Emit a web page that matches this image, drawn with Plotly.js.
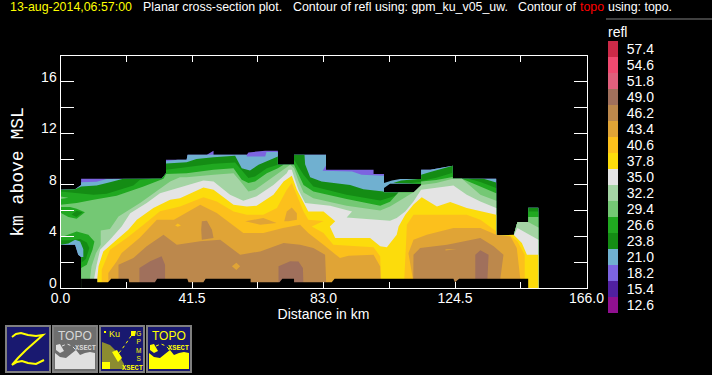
<!DOCTYPE html>
<html><head><meta charset="utf-8">
<script src="https://cdn.plot.ly/plotly-3.0.1.min.js"></script>
<style>html,body{margin:0;padding:0;background:#000}#c{width:712px;height:375px}</style></head>
<body><div id="c"></div>
<script>
// Legend
const legendLabels=["12.6","15.4","18.2","21.0","23.8","26.6","29.4","32.2","35.0","37.8","40.6","43.4","46.2","49.0","51.8","54.6","57.4"];
const legendColors=["#901090","#5020a0","#7c64e0","#70b0d0","#148c14","#20a820","#74c874","#a4d4a4","#e4e4e4","#fcdc0c","#fcc01c","#e0a436","#bc884c","#a0705c","#e0607c","#f04a70","#cc2a48"];
const legendWidth=legendLabels.map(()=>1);
// Regions where reflectivity reaches a level: [distance km, height km], null separates pieces
const ge182=[[0,7.62],[4.6,7.67],[6.5,8.0],[6.5,8.47],[31.9,8.47],[33.3,8.91],[33.3,9.95],[39.8,9.95],[40.1,10.34],[46.2,10.34],[48.3,10.65],[48.3,10.34],[58.8,10.34],[59.3,10.52],[64.6,10.65],[68.6,10.65],[68.6,9.56],[73.7,9.56],[73.7,10.34],[83.8,10.34],[83.8,9.17],[98.8,9.17],[98.8,8.84],[102.1,8.84],[102.1,7.42],[113.8,7.42],[113.8,9.17],[116.7,9.17],[123.8,9.48],[123.8,8.47],[137.5,8.47],[137.5,4.05],[143,4.05],[144.2,5.12],[147.6,5.12],[147.6,6.23],[150.8,6.23],[150.8,0],[6.5,0],[6.5,2.4],[5.6,2.58],[5.1,2.97],[4.6,3.36],[0,3.36]];
const ge21=[[0,7.62],[4.6,7.67],[6.5,8.0],[6.5,8.2],[11.4,8.25],[14.6,8.46],[31.9,8.47],[33.3,8.91],[33.3,9.85],[37,9.95],[39.8,9.95],[40.1,10.34],[58.8,10.34],[58.8,10.2],[64.6,10.2],[65,10.55],[68.6,10.55],[68.6,9.56],[73.7,9.56],[73.7,10.34],[83.8,10.34],[83.8,9.5],[82.7,9.1],[92,9.04],[95,8.78],[102.1,8.7],[102.1,7.42],[113.8,7.42],[113.8,9.17],[116.7,9.17],[123.8,9.48],[123.8,8.47],[137.5,8.47],[137.5,4.05],[143,4.05],[144.2,5.12],[147.6,5.12],[147.6,6.23],[150.8,6.23],[150.8,0],[6.5,0],[6.5,2.4],[5.6,2.58],[5.1,2.97],[4.6,3.36],[0,3.36],null,[102.1,8.14],[104.6,8.35],[107.2,8.45],[113.8,8.47],[113.8,8.09],[104,8.09],[102.1,7.75]];
const ge238=[[0,7.62],[4.6,7.67],[6.5,7.87],[11.4,7.95],[15.6,8.2],[19.8,8.47],[31.9,8.47],[33.3,8.91],[33.3,9.65],[39.8,9.75],[42.9,10],[48.3,10.15],[55.1,10.27],[57.2,9.3],[59.8,9.12],[62.5,9.56],[68.6,10.2],[68.6,9.56],[73.7,9.56],[73.7,10.34],[77,10.34],[77.2,9.6],[78.8,8.6],[82.4,8.27],[91.4,8.0],[95.6,7.67],[101.9,7.49],[102.1,7.42],[113.8,7.42],[113.8,8.79],[116.7,9.0],[123.8,9.48],[123.8,8.47],[133.5,8.47],[137.5,8.19],[137.5,4.05],[143,4.05],[144.2,5.12],[147.6,5.12],[147.6,6.23],[150.8,6.23],[150.8,0],[6.5,0],[6.5,2.4],[7.2,2.4],[7.2,3.0],[6.2,3.6],[4.6,3.75],[2.5,3.45],[0,3.36],null,[105,8.15],[107.5,8.35],[113.8,8.47],[113.8,8.09]];
const ge266=[[0,7.49],[4.6,7.36],[10.4,7.23],[14.6,7.31],[23,7.96],[25.1,8.4],[28.8,8.47],[31.9,8.47],[33.3,8.91],[33.3,9.17],[39.8,9.38],[48.3,9.64],[55.1,9.74],[57.2,9.12],[59.3,8.53],[61.4,8.66],[65.1,9.3],[68.6,9.56],[73.7,9.56],[73.7,9.95],[76.7,8.78],[79.8,7.88],[90.3,7.23],[100.9,6.79],[105,7.1],[108,7.42],[113.8,7.42],[113.8,8.3],[118.6,8.55],[123.8,8.95],[123.8,8.47],[128.8,8.47],[132.5,8.22],[137.5,7.76],[137.5,4.05],[143,4.05],[144.2,5.12],[147.6,5.12],[147.6,5.94],[150.8,5.94],[150.8,0],[6.5,0],[6.5,1.95],[8.0,2.25],[9.1,3.1],[8.3,3.53],[6.2,3.8],[3,3.7],[0,3.7],null,[110,8.12],[113.8,8.25],[113.8,8.09]];
const ge294=[[0,6.45],[5.1,6.6],[10.4,6.85],[17.7,7.15],[26.2,7.88],[30.4,8.3],[32.5,8.47],[33.3,8.84],[39.8,8.91],[48.3,9.17],[54.6,9.3],[57.2,8.4],[59.3,8.14],[61.4,8.27],[65.1,8.91],[68.6,9.3],[70.4,9.56],[73.7,9.56],[75.1,8.78],[76.7,8.0],[79.8,7.49],[90.3,6.9],[100.9,6.38],[104,6.7],[106.7,7.42],[113.8,7.42],[113.8,8.27],[118.6,8.37],[123.8,8.62],[123.8,8.47],[126.7,8.47],[132.5,7.9],[137.5,7.36],[137.5,4.05],[143,4.05],[144.2,5.12],[147.6,5.12],[147.6,5.5],[150.8,5.5],[150.8,0],[6.5,0],[6.5,1.55],[8.3,1.81],[10.1,2.97],[10.7,3.61],[8.8,4.13],[5.1,4.39],[0,3.92]];
const patch266=[[0,6.28],[3,6.28],[5.1,6.15],[7.7,5.87],[5.1,5.37],[2.5,5.5],[0,5.84]];
const patch238=[[5.1,6.0],[7,5.87],[5,5.5],[3.5,5.7]];
const patch294=[[0,7.1],[2.5,7.0],[0,6.9]];
const ge322=[[9.3,0],[9.3,0.72],[9.8,1.68],[11.2,2.71],[12.7,3.36],[12.7,4.47],[15.6,4.57],[18.3,5.55],[25.1,6.59],[31.4,7.67],[34.6,8.26],[37.7,8.6],[39.8,8.6],[48.3,8.79],[54.6,8.91],[57.2,8.14],[59.3,7.49],[61.4,7.62],[65.1,8.27],[68.6,8.91],[71.4,9.43],[72.5,9.56],[73.7,9.3],[75.1,8.3],[76.7,7.4],[79.8,6.97],[90.3,6.38],[100.9,6.02],[104,6.33],[106.7,6.71],[111.4,7.42],[113.8,8.0],[118.6,8.14],[123.8,8.47],[126.7,8.47],[132.5,7.24],[137.5,6.77],[137.5,4.05],[143,4.05],[144.2,5.12],[147.6,5.12],[150.8,4.7],[150.8,0]];
const ge35=[[10.6,0],[10.6,0.72],[11.4,1.8],[12.5,2.97],[15.6,3.74],[19.3,4.78],[22,5.8],[27.2,6.59],[31.4,7.36],[36.7,7.75],[45.1,8.35],[48.3,8.27],[53.5,7.24],[57.7,6.77],[61.9,7.11],[67.2,8],[71.4,8.91],[72,9.17],[73,9.17],[74,8.4],[75.1,7.62],[77.2,6.59],[85.1,6.38],[92,5.94],[90.3,5.47],[104,5.22],[106.1,5.43],[108.8,5.94],[111.4,6.72],[113.8,7.62],[124,7.96],[128.2,7.24],[132.5,6.72],[137.5,6.2],[137.5,4.05],[143,4.05],[144.2,4.65],[150.8,3.75],[150.8,0]];
const ge378=[[11.6,0],[11.6,0.72],[12,1.68],[13.5,2.84],[17.2,3.62],[21.4,4.52],[24.1,5.29],[29.3,6.2],[34.6,6.84],[37.7,6.97],[45.1,7.8],[48.3,7.62],[54.6,6.46],[58.8,6.33],[61.9,6.38],[67.2,7.24],[70.4,8.27],[73,8.7],[74.6,7.62],[76.7,6.59],[78.2,5.94],[83,5.94],[86.7,5.17],[85,4.78],[86.7,3.87],[97.7,3.87],[100.9,3.23],[103,3.17],[106.1,4.13],[106.7,4.78],[108.8,5.69],[111.4,6.47],[114,7.05],[118.8,6.33],[123,6.67],[128.2,6.2],[137.5,5.68],[137.5,4.05],[143,4.13],[145.6,3.49],[147.2,2.58],[150.8,2.58],[150.8,0]];
const ge406=[[13,0],[13,1.42],[15.6,2.97],[20.9,3.87],[26.2,4.9],[31.4,5.95],[37.7,6.33],[45.1,7.05],[49.3,6.72],[54.6,5.94],[58.8,5.68],[64,5.68],[68.3,6.2],[71.4,7.62],[73,8.14],[75.1,6.97],[76.7,5.94],[78.2,5.29],[83,5.2],[79.3,4.78],[83,4.26],[86.1,3.36],[98.8,3.17],[100.9,2.45],[101.2,0.72],[101.2,0],null,[108.5,0],[108.5,0.72],[109.1,3.75],[109.3,4.9],[111.4,5.68],[124,5.68],[128.2,5.68],[132.5,5.3],[137.5,4.4],[137.5,4.05],[142,4.05],[144.2,3.62],[146.5,2.58],[146.5,0]];
const ge434=[[15.1,0],[15.1,1.16],[17.7,2.06],[19.3,2.71],[25,3.9],[30.4,5.3],[35.8,5.3],[44.1,6.46],[49.3,5.81],[53.5,5.04],[57.7,4.26],[64,4.26],[70.2,4.65],[75.6,4.9],[78.2,4.26],[83,3.36],[88.2,2.32],[90.9,2.5],[98.8,2.58],[100.9,1.67],[101.1,0.72],[101.1,0],null,[111.2,0],[111.2,0.72],[109.8,2.7],[111.4,3.75],[115.6,4.13],[124,4.65],[132.5,4.65],[137.5,4.13],[142,4],[144,3.1],[145.1,0.72],[145.1,0],null,[58.3,5.17],[64,5.43],[68.2,5.04],[63,4.91],null,[70.6,5.17],[71.4,5.94],[73,6.25],[74.6,5.8],[74.6,5.3],[71.9,5.17]];
const patch406=[[36.2,4.85],[37,5.0],[38,4.85],[37,4.75]];
const ge462=[[18.3,0],[18.3,1.81],[23,2.33],[27.2,3.23],[32.5,4.13],[36.7,3.36],[44.1,3.62],[50.4,3.75],[56.7,2.58],[63,2.84],[70.4,3.49],[75.6,3.36],[79.8,3.1],[83.5,2.58],[83.8,0.72],[83.8,0],null,[111.3,0],[111.4,2.58],[113.5,3.1],[122,3.36],[132.5,3.88],[136.7,3.23],[139.8,2.58],[138.8,0.72],[138.8,0],null,[44.6,5.17],[46.2,5.22],[47.8,4.52],[48.3,3.88],[44.6,3.75],[44.4,4.52]];
const patch434=[[54.1,1.68],[55.5,1.95],[56.7,1.68],[55.5,1.4],null,[121.5,3],[125,3.02],[121.5,2.9]];
const ge49=[[24.9,0],[24.9,1.55],[28.3,2.07],[31.9,2.46],[33,1.81],[33,0],null,[68.8,0],[68.8,1.68],[72.5,2.07],[75.1,2.05],[76.5,1.55],[76.7,0],null,[130.9,0],[130.9,2.58],[132.5,2.93],[135.1,2.58],[134.6,0]];
const noData=[[6.5,0],[6.5,0.72],[11.6,0.72],[11.6,0.44],[15,0.44],[16,0.72],[21.5,0.72],[21.7,0.44],[29.8,0.44],[30.5,0.72],[40,0.72],[40.4,0.44],[45.1,0.44],[45.8,0.72],[60,0.72],[60,0.44],[69.1,0.44],[70,0.72],[73.7,0.72],[73.7,0.44],[85.6,0.44],[86.5,0.72],[124,0.72],[124.5,0.44],[125.8,0.72],[147.6,0.72],[147.6,0]];
const regions=[[ge182,"18.2"],[ge21,"21.0"],[ge238,"23.8"],[ge266,"26.6"],[ge294,"29.4"],[patch266,"26.6"],[patch238,"23.8"],[patch294,"29.4"],[ge322,"32.2"],[ge35,"35.0"],[ge378,"37.8"],[ge406,"40.6"],[ge434,"43.4"],[patch406,"40.6"],[ge462,"46.2"],[patch434,"43.4"],[ge49,"49.0"]];
const colorOf=l=>legendColors[legendLabels.indexOf(l)];
const poly=(pts,color)=>({type:"scatter",mode:"lines",x:pts.map(p=>p?p[0]:null),y:pts.map(p=>p?p[1]:null),fill:"toself",fillcolor:color,line:{width:0,color:color},hoverinfo:"skip",showlegend:false,xaxis:"x",yaxis:"y"});
const traces=regions.map(r=>poly(r[0],colorOf(r[1])));
traces.push(poly(noData,"#000000"));
traces.push({type:"bar",orientation:"h",x:legendWidth,y:legendLabels,marker:{color:legendColors,line:{width:0}},xaxis:"x2",yaxis:"y2",hoverinfo:"skip",showlegend:false});

// page furniture, given in window pixels
const W=712,H=375,PX=x=>x/W,PY=y=>1-y/H;
const path=(pts,close)=>"M"+pts.map(p=>PX(p[0]).toFixed(5)+","+PY(p[1]).toFixed(5)).join(" L")+(close?" Z":"");
const shapes=[],ann=[];
const fillShape=(pts,c)=>shapes.push({type:"path",xref:"paper",yref:"paper",path:path(pts,true),fillcolor:c,line:{width:0},layer:"above"});
const lineShape=(pts,c,w,dash)=>shapes.push({type:"path",xref:"paper",yref:"paper",path:path(pts,false),line:{color:c,width:w,dash:dash||"solid"},layer:"above"});
const label=(t,x,y,c,s,anchor,fam,weight)=>ann.push({text:t,xref:"paper",yref:"paper",x:PX(anchor?x:x-2),y:PY(y),xanchor:anchor||"left",yanchor:"middle",showarrow:false,font:{color:c,size:s,family:fam||"Liberation Sans",weight:weight||400}});
const box=(x,bg)=>{fillShape([[x,325],[x+46,325],[x+46,373],[x,373]],"#808080");fillShape([[x+2,327],[x+44,327],[x+44,371],[x+2,371]],bg);};
lineShape([[606,19],[712,19]],"#808080",1);
// titles
label("13-aug-2014,06:57:00",10,7,"#ffff00",12.4);
label("Planar cross-section plot.",143,7,"#ffffff",12.4);
label("Contour of refl using: gpm_ku_v05_uw.",293,7,"#ffffff",12.4);
label("Contour of",518,7,"#ffffff",12.4);
label("topo",580,7,"#ff0000",12.4);
label("using: topo.",608,7,"#ffffff",12.4);
label("refl",608,32,"#ffffff",14);
// Z button
box(5,"#191970");
lineShape([[12,337],[16,334],[21,333],[28,335],[36,336],[43,335],[35,342],[26,350],[18,358],[12,365],[17,362],[22,361],[28,363],[36,364],[44,360]],"#ffff00",2);
// Topography buttons
const topoBtn=(x,fg,bg,txt)=>{box(x,bg);
 label("TOPO",x+23,336,txt,12,"center");
 label("XSECT",x+33,348,txt,7,"center","Liberation Mono",700);
 fillShape([[x+3,353],[x+8,357],[x+14,358],[x+19,354],[x+24,350],[x+28,355],[x+33,353],[x+38,352],[x+43,353],[x+43,369],[x+3,369]],fg);
 fillShape([[x+4,345],[x+8,344],[x+12,351],[x+8,353],[x+4,350]],fg);
 lineShape([[x+10,346],[x+15,344],[x+20,346],[x+24,350]],fg,1,"dot");
};
topoBtn(52,"#e0e0e0","#6e6e6e","#d8d8d8");
topoBtn(146,"#ffff00","#191970","#ffff00");
// GPM button
box(99,"#191970");
fillShape([[102,342],[110,345],[117,352],[124,364],[124,369],[102,369]],"#8c8c30");
fillShape([[112,352],[117,350],[122,358],[118,362]],"#ffff00");
fillShape([[102,362],[110,362],[110,369],[102,369]],"#ffff00");
lineShape([[119,353],[125,345],[131,336]],"#ffff00",1,"dot");
fillShape([[131,331],[136,331],[135,336],[131,336]],"#ffff00");
fillShape([[104,331],[106,331],[106,333],[104,333]],"#ffff00");
label("Ku",109,334,"#ffff00",9);
label("G<br>P<br>M<br>S",139,346,"#ffff00",6.5,"center");
label("XSECT",132,368,"#ffff00",7,"center","Liberation Mono",700);

const xTickVals=[0,20.75,41.5,62.25,83,103.75,124.5,145.25,166];
const xTickText=["0.0","","41.5","","83.0","","124.5","","166.0"];
const yTickVals=[0,2,4,6,8,10,12,14,16];
const yTickText=["0","","4","","8","","12","","16"];
const layout={width:W,height:H,margin:{l:0,r:0,t:0,b:0},paper_bgcolor:"#000",plot_bgcolor:"#000",bargap:0,showlegend:false,
 font:{family:"Liberation Sans",color:"#fff",size:14},
 xaxis:{domain:[60.5/W,586.5/W],range:[0,166],tickmode:"array",tickvals:xTickVals,ticktext:xTickText,ticks:"inside",ticklen:6,tickwidth:1,tickcolor:"#fff",showline:true,linecolor:"#fff",linewidth:1,mirror:"ticks",showgrid:false,zeroline:false,ticklabelstandoff:-3,tickfont:{size:14,color:"#fff"},title:{text:"Distance in km",font:{size:14,color:"#fff"},standoff:3},anchor:"y"},
 yaxis:{domain:[1-288/H,1-56/H],range:[0,18],tickmode:"array",tickvals:yTickVals,ticktext:yTickText,ticks:"inside",ticklen:13,tickwidth:1,tickcolor:"#fff",showline:true,linecolor:"#fff",linewidth:1,mirror:"ticks",showgrid:false,zeroline:false,tickfont:{size:14,color:"#fff"},ticklabelshift:-5,title:{text:"km above MSL",font:{size:18,color:"#fff",family:"Liberation Mono"},standoff:12},anchor:"x"},
 xaxis2:{domain:[608/W,618/W],range:[0,1],visible:false,anchor:"y2",fixedrange:true},
 yaxis2:{domain:[1-313/H,1-41/H],type:"category",side:"right",anchor:"x2",tickmode:"array",tickvals:legendLabels,ticktext:legendLabels,ticks:"outside",ticklen:5,tickcolor:"#000",showline:false,showgrid:false,zeroline:false,tickfont:{size:14,color:"#fff"},fixedrange:true},
 shapes:shapes,annotations:ann};
Plotly.newPlot("c",traces,layout,{displayModeBar:false,staticPlot:true});
</script></body></html>
